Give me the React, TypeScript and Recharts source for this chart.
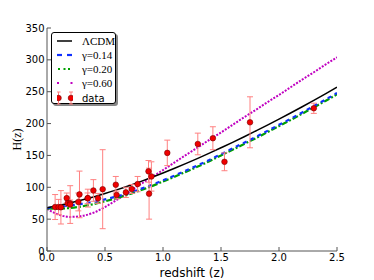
import React from "react"
import { ComposedChart, Line, Scatter, ErrorBar, XAxis, YAxis, Label } from "recharts"

// redshift grid for the model curves
const zGrid = [0, 0.1, 0.2, 0.3, 0.4, 0.5, 0.6, 0.7, 0.8, 0.9, 1.0, 1.1, 1.2, 1.3, 1.4, 1.5, 1.6, 1.7, 1.8, 1.9, 2.0, 2.1, 2.2, 2.3, 2.4, 2.5]
const lcdmH = [68, 71.5, 75.5, 80, 84.9, 90.2, 95.9, 102, 108.5, 115.3, 122.4, 129.8, 137.5, 145.4, 153.6, 162, 170.5, 179.3, 188.4, 197.6, 207, 216.6, 226.4, 236.4, 246.6, 257]
const gamma014H = [67.5, 69.5, 71.5, 74, 77, 81, 85.5, 90.5, 97, 103.5, 111, 118.5, 126.5, 134.5, 143, 152, 161, 170, 179, 188.5, 198, 207.5, 217.5, 227.5, 237.5, 248]
const gamma020H = [67, 66.5, 67.5, 70, 73.5, 78, 83, 88.5, 95, 101.5, 109, 116.5, 124.5, 132.5, 141, 150, 159, 168, 177, 186.5, 196, 205.5, 215.5, 225.5, 235.5, 246]
const gamma060H = [66, 57, 53.5, 55, 60, 69, 80, 92, 104, 115.5, 127, 139, 151, 162.5, 174.5, 186, 198, 210, 221.5, 233.5, 245, 257, 269, 280.5, 292.5, 304]

// observed H(z) points
const obsZ = [0.07, 0.1, 0.12, 0.17, 0.179, 0.199, 0.2, 0.27, 0.28, 0.35, 0.352, 0.4, 0.44, 0.48, 0.593, 0.6, 0.68, 0.73, 0.781, 0.875, 0.88, 0.9, 1.037, 1.3, 1.43, 1.53, 1.75, 2.3]
const obsH = [69, 69, 68.6, 83, 75, 75, 72.9, 77, 88.8, 82.7, 83, 95, 82.6, 97, 104, 87.9, 92, 97.3, 105, 125, 90, 117, 154, 168, 177, 140, 202, 224]
const obsErr = [19.6, 12, 26.2, 8, 4, 5, 29.6, 14, 36.6, 8.4, 14, 17, 7.8, 62, 13, 6.1, 8, 7, 12, 17, 40, 23, 20, 17, 18, 14, 40, 8]

const xTicks = [0, 0.5, 1.0, 1.5, 2.0, 2.5]
const yTicks = [0, 50, 100, 150, 200, 250, 300, 350]

const curves = zGrid.map((z, i) => ({
  z,
  lcdm: lcdmH[i],
  g014: gamma014H[i],
  g020: gamma020H[i],
  g060: gamma060H[i],
}))
const obs = obsZ.map((z, i) => ({ z, H: obsH[i], err: obsErr[i] }))

const frame = "#555"
const errColor = "#ff8080"
const tickFont = { fontFamily: "DejaVu Sans", fontSize: 10, fill: "#000" }

const Dot = (p: any) => (
  <circle cx={p.cx} cy={p.cy} r={2.8} fill="#f00000" stroke="#700" strokeWidth={0.6} />
)

const LegendBox = () => {
  const row = { display: "flex", alignItems: "center", height: 14 }
  const txt = { fontFamily: "Liberation Serif", fontSize: 11, marginLeft: 9 }
  return (
    <div
      style={{
        position: "absolute", left: 51, top: 32, width: 65, height: 72,
        border: "1px solid #000", borderRadius: 3, background: "#fff",
        boxShadow: "2px 2px 0 #888", boxSizing: "border-box", padding: "1px 0 0 5px",
      }}
    >
      <div style={row}>
        <svg width={16} height={14}><line x1={0} x2={15} y1={7} y2={7} stroke="#000" strokeWidth={1.5} /></svg>
        <span style={txt}>ΛCDM</span>
      </div>
      <div style={row}>
        <svg width={16} height={14}>
          <line x1={0} x2={5} y1={7} y2={7} stroke="#1030ff" strokeWidth={2.2} />
          <line x1={10} x2={15} y1={7} y2={7} stroke="#1030ff" strokeWidth={2.2} />
        </svg>
        <span style={txt}>γ=0.14</span>
      </div>
      <div style={row}>
        <svg width={16} height={14}>
          <rect x={1} y={6} width={2} height={2} fill="#00a000" />
          <rect x={6.5} y={6} width={2} height={2} fill="#00a000" />
          <rect x={11} y={6} width={2} height={2} fill="#00a000" />
        </svg>
        <span style={txt}>γ=0.20</span>
      </div>
      <div style={row}>
        <svg width={16} height={14}>
          <rect x={0} y={6} width={2} height={2} fill="#c000c0" />
          <rect x={13.5} y={6} width={2} height={2} fill="#c000c0" />
        </svg>
        <span style={txt}>γ=0.60</span>
      </div>
      <div style={{ ...row, height: 16 }}>
        <svg width={16} height={16}>
          {[1.5, 14].map((cx) => (
            <g key={cx}>
              <line x1={cx} x2={cx} y1={2} y2={14} stroke={errColor} strokeWidth={1} />
              <line x1={cx - 2} x2={cx + 2} y1={2} y2={2} stroke={errColor} strokeWidth={1} />
              <line x1={cx - 2} x2={cx + 2} y1={14} y2={14} stroke={errColor} strokeWidth={1} />
              <circle cx={cx} cy={8} r={2.8} fill="#f00000" stroke="#700" strokeWidth={0.6} />
            </g>
          ))}
        </svg>
        <span style={{ fontFamily: "DejaVu Sans", fontSize: 10, marginLeft: 9 }}>data</span>
      </div>
    </div>
  )
}

export default function App() {
  return (
    <div style={{ position: "absolute", left: 0, top: 0, width: 374, height: 280, background: "#fff" }}>
      <ComposedChart width={374} height={280} data={curves} margin={{ top: 28, right: 37, bottom: 0, left: 5 }}>
        <XAxis
          type="number" dataKey="z" domain={[0, 2.5]} ticks={xTicks} allowDataOverflow
          height={29} tickSize={-4} tickMargin={7} stroke={frame} tick={tickFont}
          tickFormatter={(v: number) => v.toFixed(1)}
        >
          <Label
            content={(p: any) => (
              <text x={p.viewBox.x + p.viewBox.width / 2} y={p.viewBox.y + 26} textAnchor="middle"
                fontFamily="DejaVu Sans" fontSize={12}>redshift (z)</text>
            )}
          />
        </XAxis>
        <XAxis xAxisId="top" orientation="top" type="number" domain={[0, 2.5]} ticks={xTicks} allowDataOverflow
          height={0} tickSize={-4} tick={false} stroke={frame} />
        <YAxis
          type="number" domain={[0, 350]} ticks={yTicks} allowDataOverflow
          width={42} tickSize={-4} tickMargin={6.5} stroke={frame} tick={tickFont}
        >
          <Label
            content={(p: any) => (
              <text transform={`translate(${p.viewBox.x + 12},${p.viewBox.y + p.viewBox.height / 2}) rotate(-90)`}
                textAnchor="middle" dominantBaseline="central" fontFamily="Liberation Serif" fontSize={12}>H(z)</text>
            )}
          />
        </YAxis>
        <YAxis yAxisId="right" orientation="right" type="number" domain={[0, 350]} ticks={yTicks} allowDataOverflow
          width={0} tickSize={-4} tick={false} stroke={frame} />

        <Line dataKey="g060" type="monotone" stroke="#c000c0" strokeWidth={2} strokeDasharray="2 1.4" dot={false} activeDot={false} isAnimationActive={false} />
        <Line dataKey="g020" type="monotone" stroke="#00a000" strokeWidth={2.2} strokeDasharray="6 2 2 2" dot={false} activeDot={false} isAnimationActive={false} />
        <Line dataKey="g014" type="monotone" stroke="#1030ff" strokeWidth={2.2} strokeDasharray="4 4" dot={false} activeDot={false} isAnimationActive={false} />
        <Line dataKey="lcdm" type="monotone" stroke="#000" strokeWidth={1.5} dot={false} activeDot={false} isAnimationActive={false} />
        <Scatter data={obs} dataKey="H" shape={Dot} isAnimationActive={false}>
          <ErrorBar dataKey="err" direction="y" width={3} stroke={errColor} strokeWidth={1} isAnimationActive={false} />
        </Scatter>
      </ComposedChart>
      <LegendBox />
    </div>
  )
}
